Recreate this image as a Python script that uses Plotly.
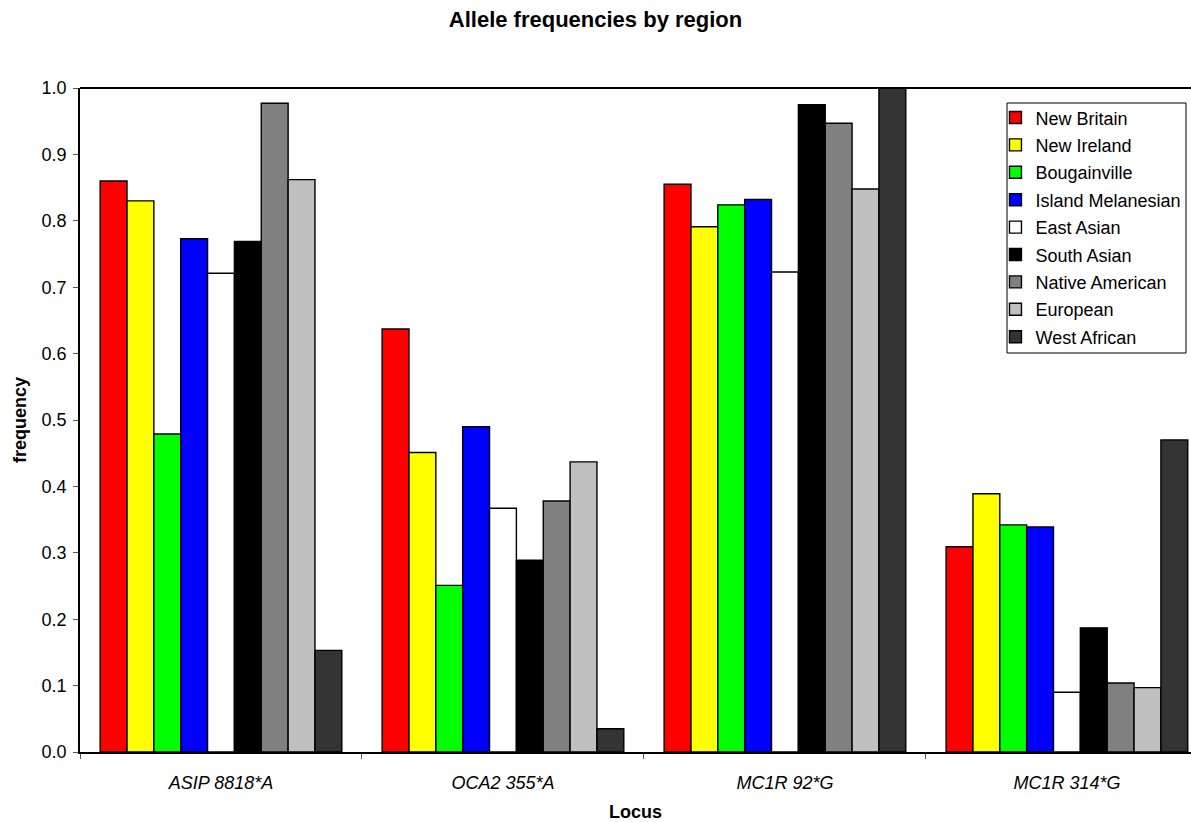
import plotly.graph_objects as go

loci = ["ASIP 8818*A", "OCA2 355*A", "MC1R 92*G", "MC1R 314*G"]
regions = ["New Britain", "New Ireland", "Bougainville", "Island Melanesian",
           "East Asian", "South Asian", "Native American", "European", "West African"]
colors = ["#FF0000", "#FFFF00", "#00FF00", "#0000FF", "#FFFFFF",
          "#000000", "#808080", "#C0C0C0", "#333333"]

new_britain = [0.860, 0.637, 0.855, 0.309]
new_ireland = [0.830, 0.451, 0.791, 0.389]
bougainville = [0.479, 0.251, 0.824, 0.342]
island_melanesian = [0.773, 0.490, 0.832, 0.339]
east_asian = [0.721, 0.367, 0.723, 0.090]
south_asian = [0.769, 0.289, 0.975, 0.187]
native_american = [0.977, 0.378, 0.947, 0.104]
european = [0.862, 0.437, 0.848, 0.097]
west_african = [0.153, 0.035, 1.000, 0.470]

series = [new_britain, new_ireland, bougainville, island_melanesian, east_asian,
          south_asian, native_american, european, west_african]

fig = go.Figure()
for name, vals, col in zip(regions, series, colors):
    fig.add_trace(go.Bar(
        x=loci, y=vals, name=name, legendgroup=name,
        marker=dict(color=col, line=dict(color="#000000", width=1.4)),
    ))

font_family = "Liberation Sans, Arial, sans-serif"
fig.update_layout(
    width=1191, height=822,
    barmode="group", bargap=0.143, bargroupgap=0,
    plot_bgcolor="white", paper_bgcolor="white",
    margin=dict(l=80, r=0, t=88, b=70, pad=0),
    font=dict(family=font_family, color="black", size=18),
    title=dict(text="<b>Allele frequencies by region</b>", x=0.5, xanchor="center",
               y=0.9763, yanchor="middle", font=dict(size=22, family=font_family)),
    legend=dict(x=0.824, y=0.983, xanchor="left", yanchor="top",
                bgcolor="rgba(0,0,0,0)", borderwidth=0,
                font=dict(size=18, family=font_family), tracegroupgap=1,
                traceorder="grouped", itemclick=False),
    showlegend=True,
)
fig.update_xaxes(
    type="category", range=[-0.5, 3.44], automargin=False,
    showline=True, linecolor="black", linewidth=2, mirror=False,
    ticks="outside", tickson="boundaries", ticklen=5, tickcolor="#555555",
    tickfont=dict(size=18, style="italic", family=font_family),
    ticklabelstandoff=13,
    title=dict(text="<b>Locus</b>", font=dict(size=18), standoff=15),
    showgrid=False,
)
fig.update_yaxes(
    range=[0, 1.0], dtick=0.1, tickformat=".1f", automargin=False,
    showline=True, linecolor="black", linewidth=1.5, mirror=False,
    ticks="outside", ticklen=5, tickcolor="#555555",
    tickfont=dict(size=18, family=font_family),
    ticklabelstandoff=3,
    title=dict(text="<b>frequency</b>", font=dict(size=18), standoff=10),
    showgrid=False, zeroline=False,
)
# top border of plot area
fig.add_shape(type="line", xref="paper", yref="paper", x0=0, x1=1, y0=1, y1=1,
              line=dict(color="black", width=2))
# legend frame
fig.add_shape(type="rect", xref="paper", yref="paper",
              x0=0.8344, x1=0.9955, y0=0.6009, y1=0.9774,
              fillcolor="white", line=dict(color="black", width=1), layer="above")

fig.write_html(
    "out.html",
    config={"displayModeBar": False},
    post_script="document.body.style.margin='0';"
                "document.documentElement.style.overflow='hidden';"
                "document.body.style.overflow='hidden';",
)
